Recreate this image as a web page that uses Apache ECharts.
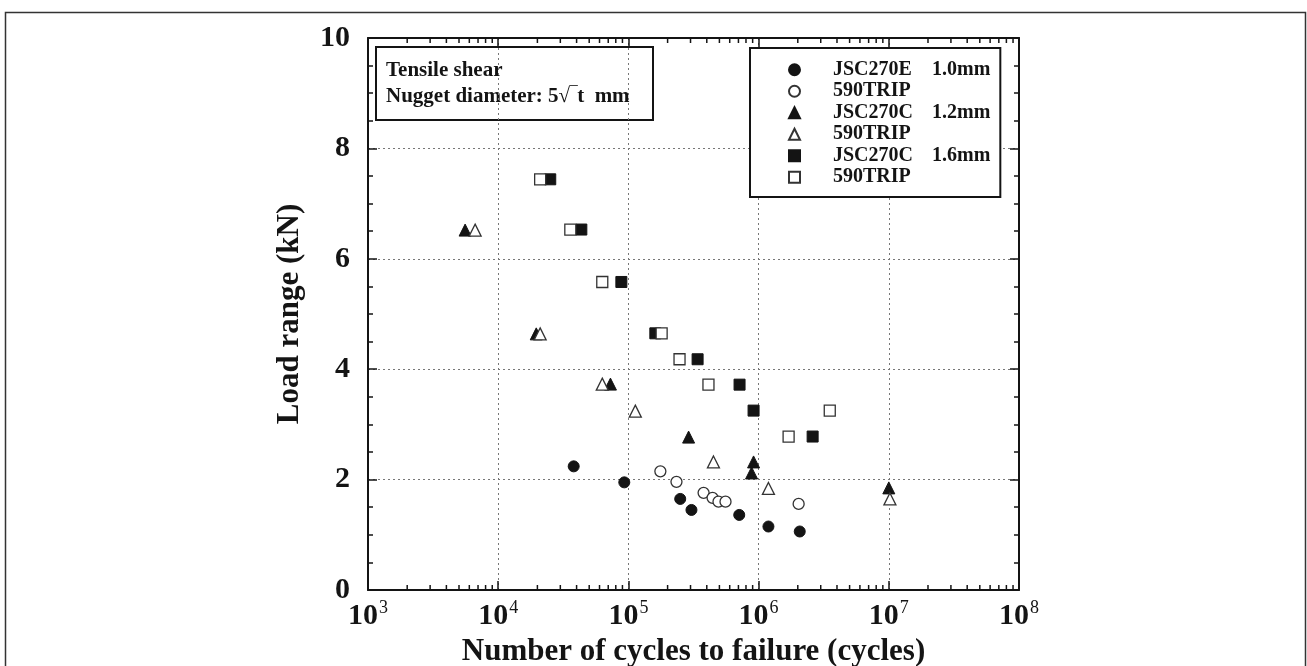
<!DOCTYPE html>
<html>
<head>
<meta charset="utf-8">
<script src="https://cdn.jsdelivr.net/npm/echarts@6/dist/echarts.min.js"></script>
<style>
  html, body { margin: 0; padding: 0; background: #fff; }
  #chart { width: 1307px; height: 666px; }
</style>
</head>
<body>
<div id="chart"></div>
<script>
// [cycles, load range kN]
const jsc270e10 = [[3.8e4, 2.24], [9.3e4, 1.95], [2.5e5, 1.65], [3.05e5, 1.45], [7.1e5, 1.36], [1.19e6, 1.15], [2.07e6, 1.06]];
const trip10 = [[1.76e5, 2.15], [2.34e5, 1.96], [3.78e5, 1.76], [4.43e5, 1.67], [4.92e5, 1.6], [5.57e5, 1.6], [2.03e6, 1.56]];
const jsc270c12 = [[5.57e3, 6.52], [1.96e4, 4.64], [7.28e4, 3.73], [2.9e5, 2.77], [9.15e5, 2.32], [8.83e5, 2.12], [1.0e7, 1.85]];
const trip12 = [[6.65e3, 6.52], [2.1e4, 4.64], [6.3e4, 3.73], [1.13e5, 3.24], [4.5e5, 2.32], [1.19e6, 1.84], [1.02e7, 1.65]];
const jsc270c16 = [[2.51e4, 7.44], [4.35e4, 6.53], [8.83e4, 5.58], [1.61e5, 4.65], [3.4e5, 4.18], [7.14e5, 3.72], [9.15e5, 3.25], [2.6e6, 2.78]];
const trip16 = [[2.1e4, 7.44], [3.58e4, 6.53], [6.3e4, 5.58], [1.8e5, 4.65], [2.47e5, 4.18], [4.12e5, 3.72], [1.7e6, 2.78], [3.52e6, 3.25]];

const legendNames = ['JSC270E 1.0mm', '590TRIP 1.0mm', 'JSC270C 1.2mm', '590TRIP 1.2mm', 'JSC270C 1.6mm', '590TRIP 1.6mm'];

const FONT = "'Liberation Serif', 'DejaVu Serif', serif";
const INK = '#141414';

// log minor tick positions (2..9 per decade), drawn as decoration
const logMinor = [];
for (let e = 3; e < 8; e++) {
    for (let m = 2; m <= 9; m++) logMinor.push([m * Math.pow(10, e), 0]);
}

const myChart = echarts.init(document.getElementById('chart'));

function scatter(name, data, symbol, size, filled) {
    return {
        name: name,
        type: 'scatter',
        data: data,
        symbol: symbol,
        symbolSize: size,
        z: filled ? 3 : 4,
        itemStyle: filled
            ? { color: INK, borderColor: INK, borderWidth: 1, opacity: 1 }
            : { color: '#fff', borderColor: '#333', borderWidth: 1.3, opacity: 1 }
    };
}

const gridStyle = { color: '#777', type: [2, 3], width: 1 };

const option = {
    backgroundColor: '#fff',
    animation: false,
    grid: { left: 368, top: 38, width: 651, height: 552, containLabel: false, outerBoundsMode: 'none' },
    xAxis: [{
        type: 'log',
        logBase: 10,
        min: 1e3,
        max: 1e8,
        interval: 1,
        position: 'bottom',
        name: 'Number of cycles to failure (cycles)',
        nameLocation: 'middle',
        nameGap: 44,
        nameTextStyle: { fontFamily: FONT, fontWeight: 'bold', fontSize: 31, color: INK },
        axisLine: { onZero: false, lineStyle: { color: INK, width: 2 } },
        axisTick: { inside: true, length: 9, lineStyle: { color: INK, width: 1.5 } },
        splitLine: { show: true, lineStyle: gridStyle },
        axisLabel: {
            margin: 9,
            formatter: function (v) {
                return '{b|10}{s|' + Math.round(Math.log10(v)) + '}';
            },
            rich: {
                b: { fontFamily: FONT, fontWeight: 'bold', fontSize: 30, color: INK },
                s: { fontFamily: FONT, fontSize: 18, color: INK, padding: [0, 0, 17, 1] }
            }
        }
    }, {
        type: 'log',
        logBase: 10,
        min: 1e3,
        max: 1e8,
        interval: 1,
        position: 'top',
        axisLine: { onZero: false, lineStyle: { color: INK, width: 2 } },
        axisTick: { inside: true, length: 9, lineStyle: { color: INK, width: 1.5 } },
        axisLabel: { show: false },
        splitLine: { show: false }
    }],
    yAxis: [{
        type: 'value',
        min: 0,
        max: 10,
        interval: 2,
        position: 'left',
        name: 'Load range (kN)',
        nameLocation: 'middle',
        nameGap: 63,
        nameTextStyle: { fontFamily: FONT, fontWeight: 'bold', fontSize: 31, color: INK },
        axisLine: { show: true, onZero: false, lineStyle: { color: INK, width: 2 } },
        axisTick: { show: true, inside: true, length: 9, lineStyle: { color: INK, width: 1.5 } },
        minorTick: { show: true, splitNumber: 4, length: 5, lineStyle: { color: INK, width: 1.5 } },
        splitLine: { show: true, lineStyle: gridStyle },
        axisLabel: { margin: 18, fontFamily: FONT, fontWeight: 'bold', fontSize: 30, color: INK }
    }, {
        type: 'value',
        min: 0,
        max: 10,
        interval: 2,
        position: 'right',
        axisLine: { show: true, onZero: false, lineStyle: { color: INK, width: 2 } },
        axisTick: { show: true, inside: true, length: 9, lineStyle: { color: INK, width: 1.5 } },
        minorTick: { show: true, splitNumber: 4, length: 5, lineStyle: { color: INK, width: 1.5 } },
        axisLabel: { show: false },
        splitLine: { show: false }
    }],
    legend: {
        data: legendNames,
        orient: 'vertical',
        left: 750,
        top: 48,
        width: 252,
        backgroundColor: '#fff',
        borderColor: INK,
        borderWidth: 2,
        borderRadius: 0,
        padding: [11, 10, 9, 38],
        itemWidth: 11,
        itemHeight: 11,
        itemGap: 0,
        selectedMode: false,
        inactiveColor: INK,
        textStyle: {
            fontFamily: FONT,
            fontWeight: 'bold',
            fontSize: 20,
            color: INK,
            lineHeight: 21.5,
            padding: [0, 0, 0, 28],
            rich: {
                n: { fontFamily: FONT, fontWeight: 'bold', fontSize: 20, color: INK, width: 99, lineHeight: 21.5 },
                t: { fontFamily: FONT, fontWeight: 'bold', fontSize: 20, color: INK, lineHeight: 21.5 }
            }
        },
        formatter: function (name) {
            const parts = name.split(' ');
            if (parts[0] === '590TRIP') return '{n|590TRIP}';
            return '{n|' + parts[0] + '}{t|' + parts[1] + '}';
        }
    },
    graphic: [{
        type: 'rect',
        left: 3,
        top: 10,
        shape: { width: 1300, height: 670 },
        style: { fill: 'none', stroke: '#333', lineWidth: 1.5 },
        silent: true,
        z: 100
    }, {
        type: 'group',
        left: 375,
        top: 46,
        z: 100,
        children: [{
            type: 'rect',
            shape: { x: 0, y: 0, width: 277, height: 73 },
            style: { fill: '#fff', stroke: INK, lineWidth: 2 }
        }, {
            type: 'text',
            x: 10,
            y: 24,
            style: {
                text: 'Tensile shear', fill: INK, font: 'bold 21px ' + FONT,
                verticalAlign: 'middle'
            }
        }, {
            type: 'text',
            x: 10,
            y: 50,
            style: {
                text: 'Nugget diameter: 5\u221A\u203Et  mm', fill: INK, font: 'bold 21px ' + FONT,
                verticalAlign: 'middle'
            }
        }]
    }],
    series: [
        scatter(legendNames[0], jsc270e10, 'circle', 11, true),
        scatter(legendNames[1], trip10, 'circle', 11, false),
        scatter(legendNames[2], jsc270c12, 'triangle', 12, true),
        scatter(legendNames[3], trip12, 'triangle', 12, false),
        scatter(legendNames[4], jsc270c16, 'rect', 11, true),
        scatter(legendNames[5], trip16, 'rect', 11, false),
        {
            type: 'custom',
            silent: true,
            xAxisIndex: 0,
            yAxisIndex: 0,
            data: logMinor,
            z: 5,
            renderItem: function (params, api) {
                const b = api.coord([api.value(0), 0]);
                const t = api.coord([api.value(0), 10]);
                const st = { stroke: INK, lineWidth: 1.5 };
                return {
                    type: 'group',
                    children: [
                        { type: 'line', shape: { x1: b[0], y1: b[1], x2: b[0], y2: b[1] - 5 }, style: st },
                        { type: 'line', shape: { x1: t[0], y1: t[1], x2: t[0], y2: t[1] + 5 }, style: st }
                    ]
                };
            }
        }
    ]
};
myChart.setOption(option);
</script>
</body>
</html>
